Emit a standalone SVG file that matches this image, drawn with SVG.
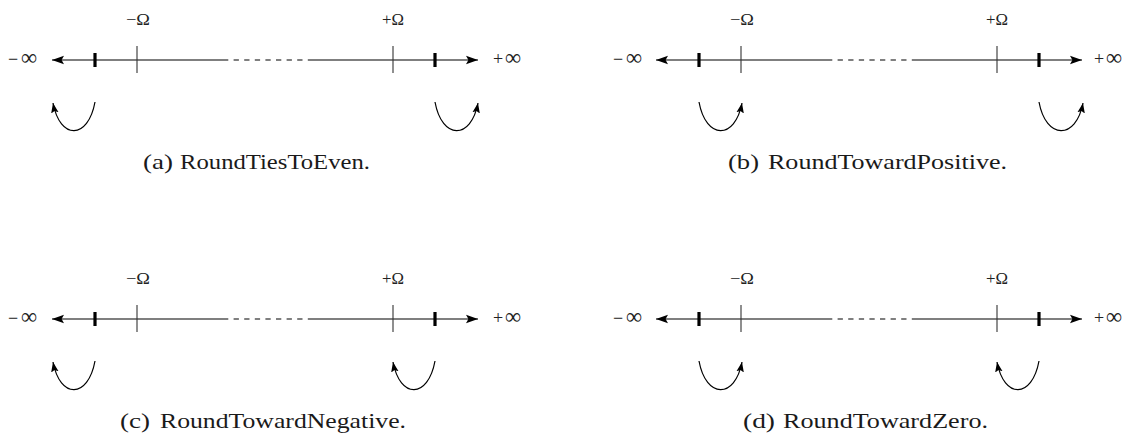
<svg xmlns="http://www.w3.org/2000/svg" width="1128" height="436" viewBox="0 0 1128 436">
<style>
  .axis{stroke:#000;stroke-width:1.2;fill:none}
  .dash{stroke:#000;stroke-width:1.2;fill:none;stroke-dasharray:5.3 5.3}
  .thin{stroke:#333;stroke-width:1.1}
  .thick{stroke:#000;stroke-width:3.2}
  .arc{stroke:#000;stroke-width:1.2;fill:none;marker-end:url(#head)}
  .math{font-family:"Liberation Serif",serif;font-weight:normal;fill:#222}
  .inf{font-size:18px}
  .big{font-size:23px}
  .om{font-size:17px}
  .cap{font-family:"Liberation Serif",serif;font-size:22px;fill:#1a1a1a}
</style>
<defs>
  <marker id="axhead" markerUnits="userSpaceOnUse" markerWidth="12" markerHeight="10" refX="10" refY="3.5" orient="auto" viewBox="0 0 10 7">
    <path d="M0,0 L10,3.5 L0,7 L2,3.5 Z" fill="#000"/>
  </marker>
  <marker id="head" markerUnits="userSpaceOnUse" markerWidth="10" markerHeight="8" refX="8" refY="3" orient="auto" viewBox="0 0 8 6">
    <path d="M0,0 L8,3 L0,6 L1.5,3 Z" fill="#000"/>
  </marker>
  <g id="axisbase">
    <path class="axis" d="M223,60 L52,60" marker-end="url(#axhead)"/>
    <path class="dash" d="M223,60 L308,60"/>
    <path class="axis" d="M308,60 L478,60" marker-end="url(#axhead)"/>
    <line class="thin" x1="137" y1="46" x2="137" y2="73"/>
    <line class="thin" x1="393" y1="46" x2="393" y2="73"/>
    <line class="thick" x1="95" y1="53" x2="95" y2="67"/>
    <line class="thick" x1="435" y1="53" x2="435" y2="67"/>
  </g>
</defs>

<g id="panel-a">
  <use href="#axisbase"/>
  <text class="math inf" x="8" y="65">−<tspan class="big" x="21" textLength="16" lengthAdjust="spacingAndGlyphs">∞</tspan></text>
  <text class="math inf" x="493" y="65">+<tspan class="big" x="505" textLength="16" lengthAdjust="spacingAndGlyphs">∞</tspan></text>
  <text class="math om" x="126" y="25" textLength="24" lengthAdjust="spacingAndGlyphs">−Ω</text>
  <text class="math om" x="382" y="25" textLength="22" lengthAdjust="spacingAndGlyphs">+Ω</text>
</g>
<g id="panel-b" transform="translate(604,0)">
  <use href="#axisbase"/>
  <text class="math inf" x="9" y="65">−<tspan class="big" x="22" textLength="16" lengthAdjust="spacingAndGlyphs">∞</tspan></text>
  <text class="math inf" x="490" y="65">+<tspan class="big" x="502" textLength="16" lengthAdjust="spacingAndGlyphs">∞</tspan></text>
  <text class="math om" x="126" y="25" textLength="24" lengthAdjust="spacingAndGlyphs">−Ω</text>
  <text class="math om" x="382" y="25" textLength="22" lengthAdjust="spacingAndGlyphs">+Ω</text>
</g>
<g id="panel-c" transform="translate(0,259)">
  <use href="#axisbase"/>
  <text class="math inf" x="8" y="65">−<tspan class="big" x="21" textLength="16" lengthAdjust="spacingAndGlyphs">∞</tspan></text>
  <text class="math inf" x="493" y="65">+<tspan class="big" x="505" textLength="16" lengthAdjust="spacingAndGlyphs">∞</tspan></text>
  <text class="math om" x="126" y="25" textLength="24" lengthAdjust="spacingAndGlyphs">−Ω</text>
  <text class="math om" x="382" y="25" textLength="22" lengthAdjust="spacingAndGlyphs">+Ω</text>
</g>
<g id="panel-d" transform="translate(604,259)">
  <use href="#axisbase"/>
  <text class="math inf" x="9" y="65">−<tspan class="big" x="22" textLength="16" lengthAdjust="spacingAndGlyphs">∞</tspan></text>
  <text class="math inf" x="490" y="65">+<tspan class="big" x="502" textLength="16" lengthAdjust="spacingAndGlyphs">∞</tspan></text>
  <text class="math om" x="126" y="25" textLength="24" lengthAdjust="spacingAndGlyphs">−Ω</text>
  <text class="math om" x="382" y="25" textLength="22" lengthAdjust="spacingAndGlyphs">+Ω</text>
</g>

<g id="connectors">
  <path class="arc" d="M95,102 C88,140 60,140 53,103"/>
  <path class="arc" d="M435,102 C442,140 471,140 478,103"/>
  <path class="arc" d="M699,102 C706,140 735,140 742,103"/>
  <path class="arc" d="M1039,102 C1046,140 1076,140 1083,103"/>
  <path class="arc" d="M95,361 C88,399 60,399 53,362"/>
  <path class="arc" d="M435,361 C428,399 400,399 393,362"/>
  <path class="arc" d="M699,361 C706,399 735,399 742,362"/>
  <path class="arc" d="M1039,361 C1032,399 1004,399 997,362"/>
</g>

<g id="captions">
  <text class="cap" x="143" y="168.5" textLength="30" lengthAdjust="spacingAndGlyphs">(a)</text>
  <text class="cap" x="180" y="168.5" textLength="190" lengthAdjust="spacingAndGlyphs">RoundTiesToEven.</text>
  <text class="cap" x="728" y="168.5" textLength="31" lengthAdjust="spacingAndGlyphs">(b)</text>
  <text class="cap" x="768" y="168.5" textLength="239" lengthAdjust="spacingAndGlyphs">RoundTowardPositive.</text>
  <text class="cap" x="120" y="427.5" textLength="30" lengthAdjust="spacingAndGlyphs">(c)</text>
  <text class="cap" x="160" y="427.5" textLength="246" lengthAdjust="spacingAndGlyphs">RoundTowardNegative.</text>
  <text class="cap" x="743" y="427.5" textLength="32" lengthAdjust="spacingAndGlyphs">(d)</text>
  <text class="cap" x="783" y="427.5" textLength="205" lengthAdjust="spacingAndGlyphs">RoundTowardZero.</text>
</g>
</svg>
